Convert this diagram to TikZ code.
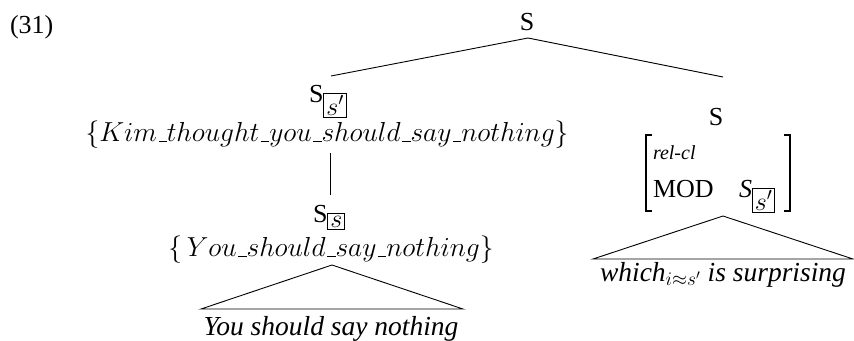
\documentclass[tikz,border=0pt]{standalone}
\usepackage{fix-cm}
\usepackage{fontspec}
\setmainfont{Liberation Serif}
\newcommand\us{\kern.06em\vbox{\hrule width.3em}}
\newcommand\bx[1]{{\fboxsep=2pt\fboxrule=0.8pt\fbox{$#1$}}}
\begin{document}
\begin{tikzpicture}[x=1pt,y=-1pt,
  every node/.style={inner sep=0pt, outer sep=0pt, font=\fontsize{26}{31}\selectfont},
  mathline/.style={font=\fontsize{27.5}{32}\selectfont},
  leaf/.style={font=\fontsize{27.5}{32}\selectfont\itshape},
  tline/.style={line width=0.9pt, line join=miter},
  brk/.style={line width=1.1pt}]
\useasboundingbox (0,0) rectangle (854,340);
% labels
\node[anchor=base west] (ex) at (10,33) {(31)};
\node[anchor=base] (top) at (527,30) {S};
\node[anchor=base west] (sl) at (309,102) {S$_{\bx{s'}}$};
\node[anchor=base, mathline] (kim) at (327,141) {$\{Kim\us thought\us you\us should\us say\us nothing\}$};
\node[anchor=base west] (ss) at (313,222) {S$_{\bx{s}}$};
\node[anchor=base, mathline] (you) at (331,256) {$\{\,You\us should\us say\us nothing\}$};
\node[anchor=base, leaf] (leafl) at (331,335) {You should say nothing};
\node[anchor=base] (sr) at (716,125) {S};
\node[anchor=base west, font=\fontsize{20}{24}\selectfont\itshape] (relcl) at (653,159) {rel-cl};
\node[anchor=base west] (mod) at (653,197) {MOD};
\node[anchor=base west] (modval) at (739,197) {\textit{S}$_{\bx{s'}}$};
\node[anchor=base, leaf] (leafr) at (723,281) {which$_{i\approx s'}$ is surprising};
% connector end points
\coordinate (topb) at (528,38);
\coordinate (la) at (331,76);
\coordinate (ra) at (723,77);
\coordinate (v1) at (330,153);
\coordinate (v2) at (330,195);
\coordinate (tla) at (332,265);
\coordinate (tll) at (201,309);
\coordinate (tlr) at (463,309);
\coordinate (tra) at (723,216);
\coordinate (trl) at (593,259);
\coordinate (trr) at (853,259);
\draw[tline] (la) -- (topb) -- (ra);
\draw[tline] (v1) -- (v2);
\draw[tline] (tll) -- (tla) -- (tlr) -- cycle;
\draw[tline] (trl) -- (tra) -- (trr) -- cycle;
% AVM brackets
\draw[brk] (652,135) -- (646,135) -- (646,211) -- (652,211);
\draw[brk] (784,135) -- (790,135) -- (790,211) -- (784,211);
\end{tikzpicture}
\end{document}
